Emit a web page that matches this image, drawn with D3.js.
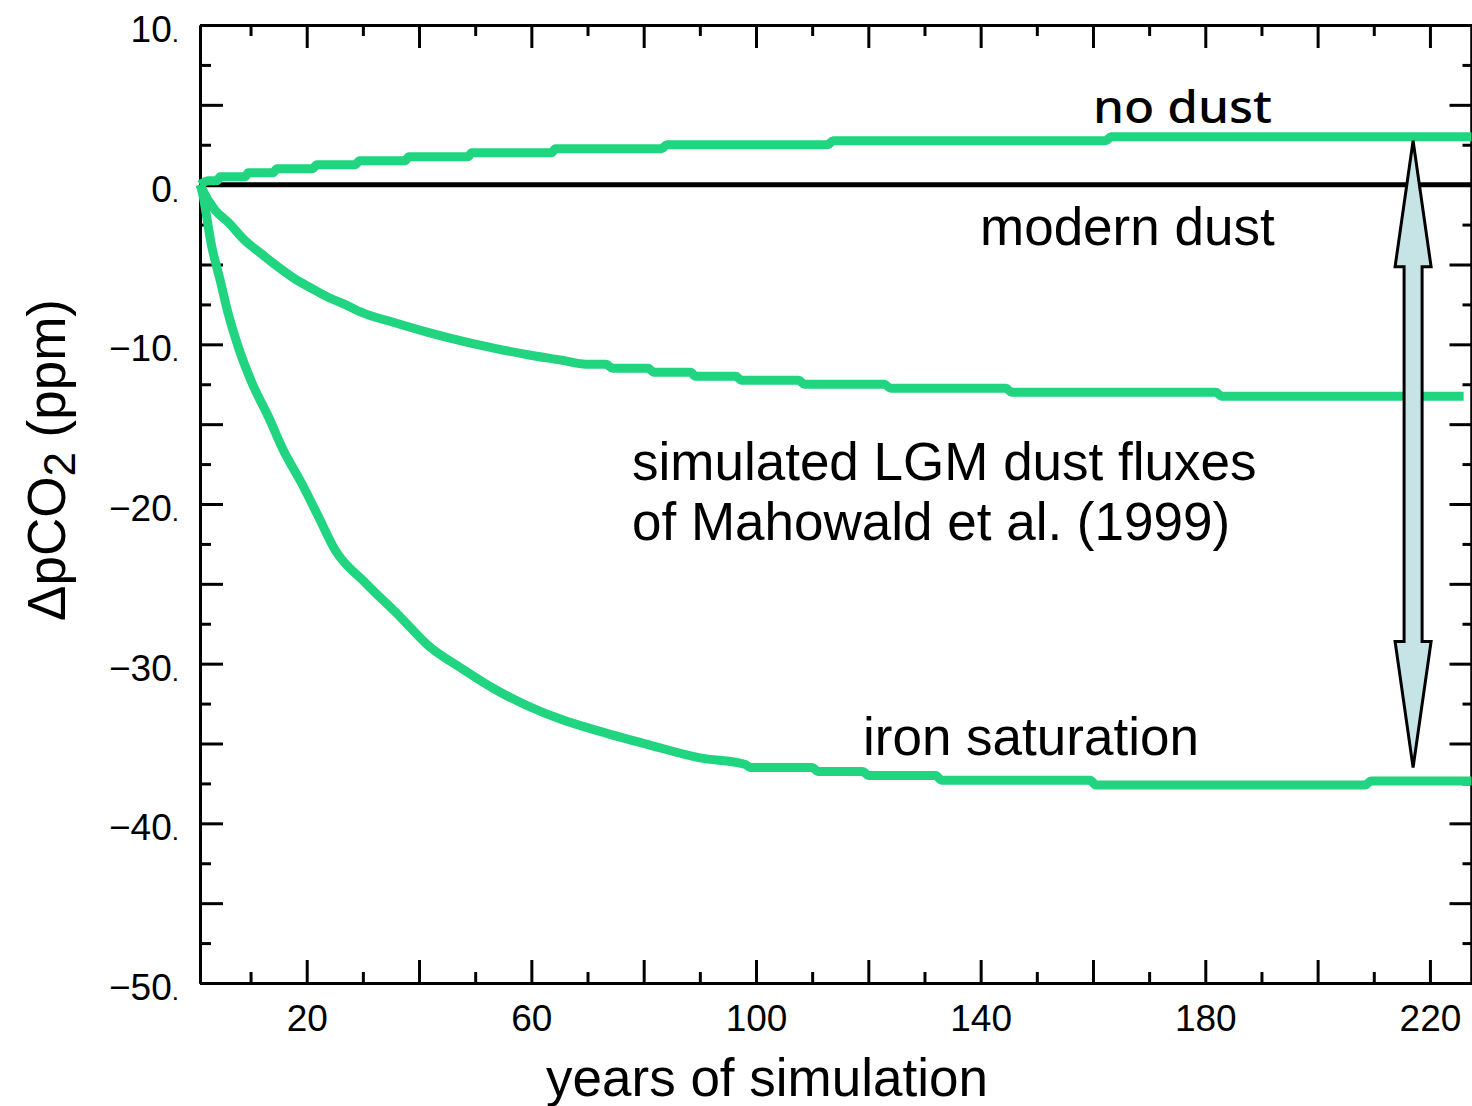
<!DOCTYPE html>
<html>
<head>
<meta charset="utf-8">
<script src="https://cdn.jsdelivr.net/npm/d3@7"></script>
<style>
  body { margin: 0; background: #fff; }
  svg { display: block; }
</style>
</head>
<body>
<div id="chart"></div>
<script>
// years of simulation vs change in pCO2 (ppm)
const noDust = [
    [1, 0], [2.5, 0.25], [4, 0.25], [4.6, 0.5], [9, 0.5], [9.6, 0.75], [14, 0.75], [14.7, 1.0],
    [21, 1.0], [21.8, 1.25], [28.6, 1.25], [29.4, 1.5], [37.5, 1.5], [38.2, 1.75], [48.7, 1.75],
    [49.4, 2.0], [63.6, 2.0], [64.3, 2.25], [83.2, 2.25], [84.1, 2.5], [112.8, 2.5], [113.7, 2.75],
    [162.3, 2.75], [163.2, 3.0], [227.4, 3.0]
];

const lgmDust = [
    [1, 0], [1.4, -0.3], [3.7, -1.6], [6, -2.35], [9, -3.5], [12, -4.35], [14.9, -5.15],
    [17.9, -5.9], [20.9, -6.5], [23.8, -7.05], [26.8, -7.5], [29.8, -8.0], [35.7, -8.65],
    [41.6, -9.25], [47.7, -9.8], [53.5, -10.25], [59.4, -10.65], [65.5, -11.0], [69.7, -11.25],
    [73.3, -11.25], [74.5, -11.5], [80.8, -11.5], [81.8, -11.75], [88.4, -11.75], [89.2, -12.0],
    [96.4, -12.0], [97.4, -12.25], [107.6, -12.25], [108.6, -12.5], [122.8, -12.5], [124, -12.75],
    [144.5, -12.75], [145.5, -13.0], [181.9, -13.0], [182.9, -13.25], [226, -13.25]
];

const ironSaturation = [
    [1, 0], [1.3, -0.33], [3.1, -3.9], [4.6, -6.0], [6.0, -8.05], [7.8, -10.15], [10.3, -12.45],
    [13.2, -14.55], [15.8, -16.6], [19.1, -18.7], [22.1, -20.8], [25.0, -22.85], [30.5, -24.95],
    [36.6, -27.05], [41.6, -28.85], [47.6, -30.3], [53.5, -31.6], [59.4, -32.65], [65.4, -33.5],
    [71.3, -34.15], [81.1, -35.1], [90, -35.9], [98, -36.3], [99, -36.5], [110, -36.5],
    [111, -36.75], [119, -36.75], [120, -37.0], [132, -37.0], [133, -37.3], [159.5, -37.3],
    [160.5, -37.6], [208.5, -37.6], [209.5, -37.35], [227.4, -37.35]
];

const modernDust = [[1, 0], [227.4, 0]];

// arrow: year, from no-dust level down to iron-saturation level
const arrowYear = 217;
const arrowSpan = [2.75, -36.5];

const xMajorTicks = [20, 40, 60, 80, 100, 120, 140, 160, 180, 200, 220];
const xMinorTicks = [10, 30, 50, 70, 90, 110, 130, 150, 170, 190, 210];
const xLabelTicks = [20, 60, 100, 140, 180, 220];
const yMajorTicks = [10, 5, 0, -5, -10, -15, -20, -25, -30, -35, -40, -45, -50];
const yMinorTicks = [7.5, 2.5, -2.5, -7.5, -12.5, -17.5, -22.5, -27.5, -32.5, -37.5, -42.5, -47.5];
const yLabelTicks = [10, 0, -10, -20, -30, -40, -50];

const width = 1472,
    height = 1106,
    margin = {top: 25, right: 0.5, bottom: 123, left: 200};

const green = '#21d47f';
const font = '"Liberation Sans", Arial, Helvetica, sans-serif';

const svg = d3.select('#chart').append('svg')
    .attr('width', width)
    .attr('height', height)
    .style('background', '#fff');

const xScale = d3.scaleLinear()
    .domain([1, 227.4])
    .range([margin.left, width - margin.right]);

const yScale = d3.scaleLinear()
    .domain([-50, 10])
    .range([height - margin.bottom, margin.top]);

const longTick = 23, shortTick = 11;

function styleAxis(g) {
    g.selectAll('path.domain').attr('stroke', '#000').attr('stroke-width', 3);
    g.selectAll('.tick line').attr('stroke', '#000').attr('stroke-width', 3);
    g.selectAll('text')
        .attr('fill', '#000')
        .style('font-family', font)
        .style('font-size', '37px');
}

const bottomY = height - margin.bottom;
const rightX = width - margin.right;

// bottom axis
const gBottom = svg.append('g')
    .attr('transform', `translate(0,${bottomY})`)
    .call(d3.axisBottom(xScale).tickValues(xMajorTicks).tickSize(-longTick).tickSizeOuter(0)
        .tickPadding(22)
        .tickFormat(d => xLabelTicks.includes(d) ? d : ''));
styleAxis(gBottom);
svg.append('g')
    .attr('transform', `translate(0,${bottomY})`)
    .call(d3.axisBottom(xScale).tickValues(xMinorTicks).tickSize(-shortTick).tickSizeOuter(0).tickFormat(''))
    .call(styleAxis);

// top axis
svg.append('g')
    .attr('transform', `translate(0,${margin.top})`)
    .call(d3.axisTop(xScale).tickValues(xMajorTicks).tickSize(-longTick).tickSizeOuter(0).tickFormat(''))
    .call(styleAxis);
svg.append('g')
    .attr('transform', `translate(0,${margin.top})`)
    .call(d3.axisTop(xScale).tickValues(xMinorTicks).tickSize(-shortTick).tickSizeOuter(0).tickFormat(''))
    .call(styleAxis);

// left axis
const gLeft = svg.append('g')
    .attr('transform', `translate(${margin.left},0)`)
    .call(d3.axisLeft(yScale).tickValues(yMajorTicks).tickSize(-longTick).tickSizeOuter(0)
        .tickPadding(21)
        .tickFormat(d => yLabelTicks.includes(d) ? d3.format('d')(d) : ''));
styleAxis(gLeft);
gLeft.selectAll('.tick text')
    .attr('dy', '0.45em')
    .each(function () {
        const t = d3.select(this);
        if (t.text() !== '') {
            t.append('tspan').style('font-size', '26px').text('.');
        }
    });
svg.append('g')
    .attr('transform', `translate(${margin.left},0)`)
    .call(d3.axisLeft(yScale).tickValues(yMinorTicks).tickSize(-shortTick).tickSizeOuter(0).tickFormat(''))
    .call(styleAxis);

// right axis
svg.append('g')
    .attr('transform', `translate(${rightX},0)`)
    .call(d3.axisRight(yScale).tickValues(yMajorTicks).tickSize(-22).tickSizeOuter(0).tickFormat(''))
    .call(styleAxis);
svg.append('g')
    .attr('transform', `translate(${rightX},0)`)
    .call(d3.axisRight(yScale).tickValues(yMinorTicks).tickSize(-9).tickSizeOuter(0).tickFormat(''))
    .call(styleAxis);

// axis titles
svg.append('text')
    .attr('x', 767)
    .attr('y', 1096)
    .attr('text-anchor', 'middle')
    .style('font-family', font)
    .style('font-size', '53px')
    .text('years of simulation');

const yTitle = svg.append('text')
    .attr('transform', 'translate(65,460) rotate(-90)')
    .attr('text-anchor', 'middle')
    .style('font-family', font)
    .style('font-size', '53px');
yTitle.append('tspan').text('ΔpCO');
yTitle.append('tspan').attr('dy', 10).style('font-size', '44px').text('2');
yTitle.append('tspan').attr('dy', -10).text(' (ppm)');

// curves
const line = d3.line()
    .x(d => xScale(d[0]))
    .y(d => yScale(d[1]))
    .curve(d3.curveMonotoneX);

svg.append('path')
    .datum(modernDust)
    .attr('d', line)
    .attr('fill', 'none')
    .attr('stroke', '#000')
    .attr('stroke-width', 5);

[noDust, lgmDust, ironSaturation].forEach(series => {
    svg.append('path')
        .datum(series)
        .attr('d', line)
        .attr('fill', 'none')
        .attr('stroke', green)
        .attr('stroke-width', 9)
        .attr('stroke-linejoin', 'round');
});

// double headed arrow
const ax = xScale(arrowYear),
    yTop = yScale(arrowSpan[0]),
    yBot = yScale(arrowSpan[1]),
    headLen = 126, headHalf = 18, shaftHalf = 9;
const arrowPts = [
    [ax, yTop],
    [ax + headHalf, yTop + headLen],
    [ax + shaftHalf, yTop + headLen],
    [ax + shaftHalf, yBot - headLen],
    [ax + headHalf, yBot - headLen],
    [ax, yBot],
    [ax - headHalf, yBot - headLen],
    [ax - shaftHalf, yBot - headLen],
    [ax - shaftHalf, yTop + headLen],
    [ax - headHalf, yTop + headLen]
];
svg.append('path')
    .attr('d', d3.line()(arrowPts) + 'Z')
    .attr('fill', '#c6e3e6')
    .attr('stroke', '#000')
    .attr('stroke-width', 3)
    .attr('stroke-linejoin', 'miter');

// annotations
const notes = [
    {text: 'modern dust', x: 980, y: 245},
    {text: 'simulated LGM dust fluxes', x: 632, y: 480},
    {text: 'of Mahowald et al. (1999)', x: 632, y: 540},
    {text: 'iron saturation', x: 863, y: 755}
];
svg.selectAll('text.note')
    .data(notes)
    .enter()
    .append('text')
    .attr('class', 'note')
    .attr('x', d => d.x)
    .attr('y', d => d.y)
    .style('font-family', font)
    .style('font-size', '53px')
    .text(d => d.text);

svg.append('text')
    .attr('x', 1093)
    .attr('y', 123)
    .attr('textLength', 179)
    .attr('lengthAdjust', 'spacingAndGlyphs')
    .style('font-family', '"Comic Sans MS", "Noto Sans", sans-serif')
    .style('font-size', '46px')
    .style('font-weight', 500)
    .text('no dust');
</script>
</body>
</html>
